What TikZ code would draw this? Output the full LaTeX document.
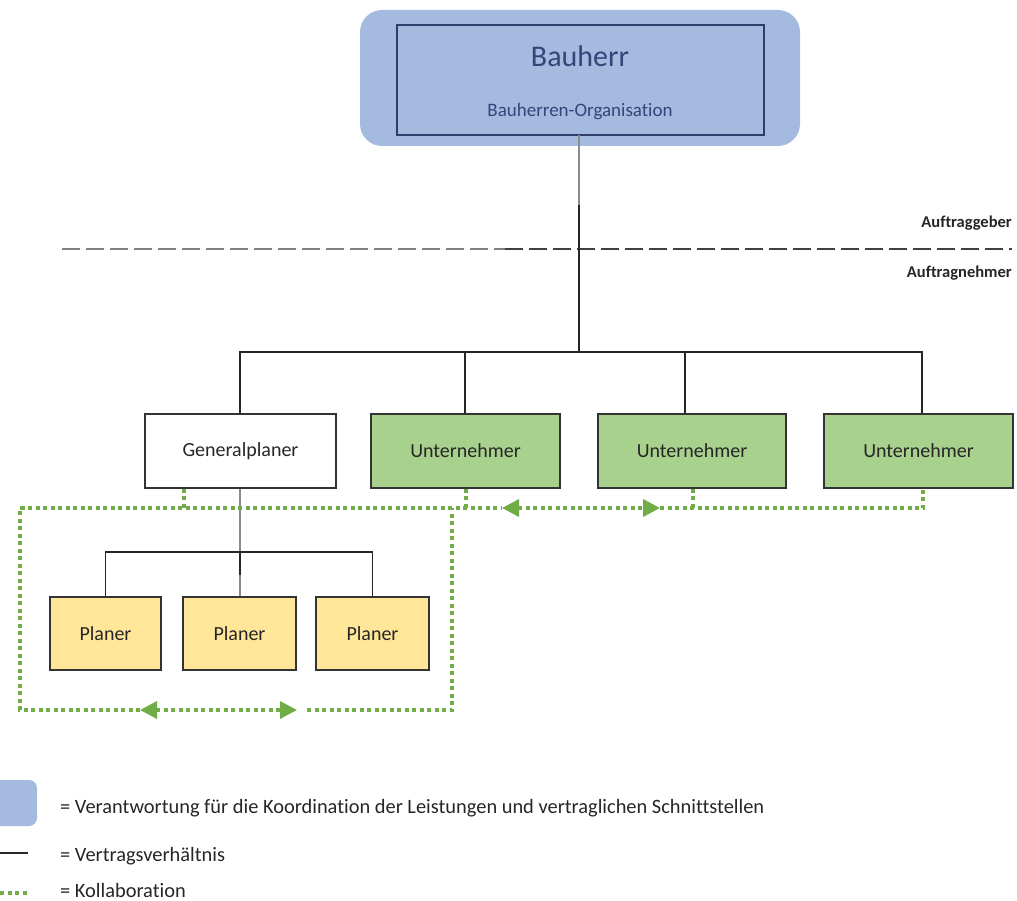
\documentclass[tikz,border=0pt]{standalone}
\usepackage{fontspec}
\setmainfont{Carlito}[Ligatures={NoCommon}]
\usetikzlibrary{arrows.meta}
\definecolor{bhfill}{HTML}{A4BADF}
\definecolor{bhline}{HTML}{2E3D6B}
\definecolor{bhtext}{HTML}{34457A}
\definecolor{unfill}{HTML}{A9D18E}
\definecolor{plfill}{HTML}{FFE699}
\definecolor{collabgreen}{HTML}{70AD47}
\definecolor{txt}{HTML}{262626}
\tikzset{
  orgbox/.style={draw=black!80, line width=1.5pt, minimum height=74pt, inner sep=0pt,
    font=\fontsize{20}{24}\selectfont, text=txt},
  planbox/.style={orgbox, fill=plfill, minimum height=73pt},
  contract/.style={draw=black!85, line width=1.5pt},
  contractgray/.style={draw=black!45, line width=1.5pt},
  collab/.style={draw=collabgreen, line width=3.5pt, dash pattern=on 4pt off 3.5pt},
  collabtip/.style={{Triangle[length=17pt,width=17pt]}-{Triangle[length=17pt,width=17pt]}},
  sidelabel/.style={anchor=base east, inner sep=0pt, font=\fontsize{16.5}{19}\selectfont\bfseries, text=txt},
  legendtext/.style={anchor=base west, inner sep=0pt, font=\fontsize{20.4}{24}\selectfont, text=txt},
}
\begin{document}
\begin{tikzpicture}[x=1pt,y=-1pt]
\useasboundingbox (0,0) rectangle (1017,901);

% client block
\node[fill=bhfill, rounded corners=22pt, minimum width=440pt, minimum height=136pt, inner sep=0pt] (bhouter) at (580,78) {};
\node[draw=bhline, line width=1.3pt, minimum width=367pt, minimum height=110pt, inner sep=0pt] (bh) at (580.5,80) {};
\node[anchor=base, inner sep=0pt, text=bhtext, font=\fontsize{30}{36}\selectfont] (bhtitle) at (580,67) {Bauherr};
\node[anchor=base, inner sep=0pt, text=bhtext, font=\fontsize{19}{23}\selectfont] (bhsub) at (580,117) {Bauherren-Organisation};

% client / contractor boundary
\coordinate (dl) at (62,249);
\coordinate (dm) at (505,249);
\coordinate (dr) at (1012,249);
\draw[draw=black!50, line width=2.5pt, dash pattern=on 18pt off 6pt] (dl) -- (dm);
\draw[draw=black!75, line width=2.5pt, dash pattern=on 18pt off 6pt] (dm) -- (dr);
\node[sidelabel] (ag) at (1012,228) {Auftraggeber};
\node[sidelabel] (an) at (1012,278) {Auftragnehmer};

% contractors
\node[orgbox, fill=white, minimum width=191pt] (gp) at (240.5,451) {Generalplaner};
\node[orgbox, fill=unfill, minimum width=189pt] (u1) at (465.5,451) {Unternehmer};
\node[orgbox, fill=unfill, minimum width=188pt] (u2) at (692,451) {Unternehmer};
\node[orgbox, fill=unfill, minimum width=189pt] (u3) at (918.5,451) {Unternehmer};

% planners
\node[planbox, minimum width=111pt] (p1) at (105.5,633.5) {Planer};
\node[planbox, minimum width=113pt] (p2) at (239.5,633.5) {Planer};
\node[planbox, minimum width=113pt] (p3) at (372.5,633.5) {Planer};

% contract lines, client to contractors
\coordinate (bus) at (579,352);
\coordinate (gpdrop) at (240,352);
\coordinate (u1drop) at (465,352);
\coordinate (u2drop) at (685,352);
\coordinate (u3drop) at (922,352);
\draw[contractgray] (579,135) -- (579,205);
\draw[contract] (579,205) -- (bus);
\draw[contract] (gp.north -| gpdrop) -- (gpdrop) -- (u3drop) -- (u3.north -| u3drop);
\draw[contract] (u1drop) -- (u1.north -| u1drop);
\draw[contract] (u2drop) -- (u2.north -| u2drop);

% contract lines, general planner to planners
\coordinate (pbus) at (240,552);
\draw[contractgray] (gp.south -| pbus) -- (pbus);
\draw[contract] (p1.north) -- (p1.north |- pbus) -- (p3.north |- pbus) -- (p3.north);
\draw[contract] (pbus) -- (240,575);
\draw[contractgray] (240,575) -- (p2.north -| pbus);

% collaboration
\coordinate (gpc) at (184,508);
\coordinate (u1c) at (466,508);
\coordinate (u2c) at (693,508);
\coordinate (u3c) at (923,508);
\coordinate (ta) at (502,508);
\coordinate (tb) at (660,508);
\coordinate (ba) at (140,710);
\coordinate (bb) at (297,710);
\coordinate (bc) at (307,710);
\coordinate (lc) at (20,710);
\coordinate (rc) at (452,710);
\draw[collab] (ba) -- (lc) -- (20,508) -- (ta);
\draw[collab, collabtip] (ba) -- (bb);
\draw[collab] (bc) -- (rc) -- (452,508);
\draw[collab, collabtip] (ta) -- (tb);
\draw[collab, line width=4pt] (tb) -- (u3c) -- (u3.south -| u3c);
\draw[collab] (gp.south -| gpc) -- (gpc);
\draw[collab] (u1.south -| u1c) -- (u1c);
\draw[collab] (u2.south -| u2c) -- (u2c);

% legend
\node[fill=bhfill, rounded corners=8pt, minimum width=50pt, minimum height=46pt, inner sep=0pt] (lgbox) at (12,803) {};
\node[legendtext] (lg1) at (60,813) {= Verantwortung für die Koordination der Leistungen und vertraglichen Schnittstellen};
\coordinate (lg2a) at (0,853);
\coordinate (lg2b) at (28,853);
\draw[contract] (lg2a) -- (lg2b);
\node[legendtext] (lg2) at (60,861) {= Vertragsverhältnis};
\coordinate (lg3a) at (0,893);
\coordinate (lg3b) at (28,893);
\draw[collab] (lg3a) -- (lg3b);
\node[legendtext] (lg3) at (60,897) {= Kollaboration};
\end{tikzpicture}
\end{document}
